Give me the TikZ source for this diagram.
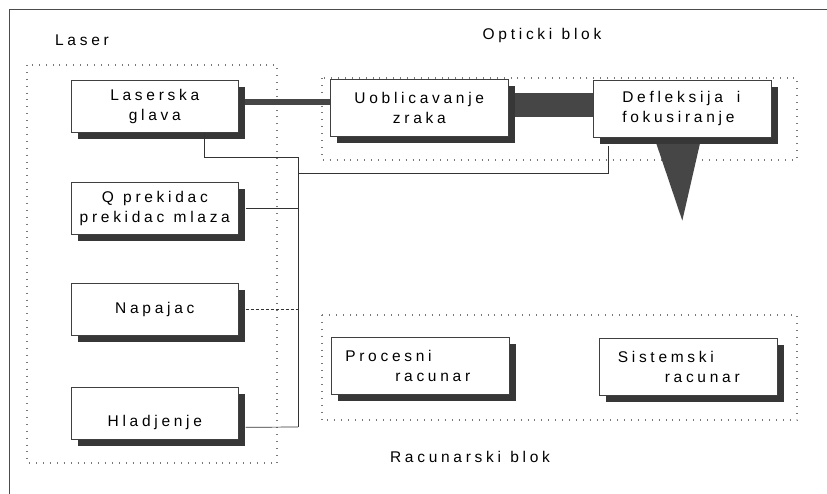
\documentclass[tikz,border=0pt]{standalone}
\usepackage{fontspec}
\setmainfont{Liberation Sans}
\newfontfamily\blockfont[LetterSpace=24]{Liberation Sans}
\usepackage{tikz}
\usetikzlibrary{positioning,calc,shadows,backgrounds}
\definecolor{shadowgrey}{RGB}{55,55,55}
\definecolor{beamgrey}{RGB}{70,70,70}
\definecolor{zonegrey}{RGB}{120,120,120}
\newcommand{\wgap}{\hspace{0.6em}}

\tikzset{
  unitbox/.style={draw=black!75,line width=0.6pt,fill=white,inner sep=0pt,
    minimum width=167pt,minimum height=52pt,align=center,
    drop shadow={shadow xshift=7pt,shadow yshift=-7pt,fill=shadowgrey,opacity=1}},
  widebox/.style={unitbox,minimum width=178pt,minimum height=57pt},
  zone/.style={draw=zonegrey,line width=1.1pt,dash pattern=on 0.9pt off 6pt},
  wire/.style={draw=black!80,line width=0.7pt},
  beam/.style={draw=beamgrey,line cap=butt},
  title/.style={font=\blockfont\fontsize{15.5}{18}\selectfont}
}

\begin{document}
\begin{tikzpicture}[x=1pt,y=-1pt,every node/.style={font=\blockfont\fontsize{15.5}{20}\selectfont}]
  \useasboundingbox (0,0) rectangle (827,494);
  % outer frame
  \draw[black!70,line width=0.7pt] (9,494) -- (9,9) -- (827,9);

  % headings
  \node[title] (laser) at (82,40) {Laser};
  \node[title] (optic) at (542,35) {Opticki\wgap blok};
  \node[title] (comp) at (470,457) {Racunarski\wgap blok};

  % laser column
  \node[unitbox,anchor=north west] (head) at (71,80) {Laserska\\glava};
  \node[unitbox,anchor=north west] (qswitch) at (71,182) {Q\wgap prekidac\\prekidac\wgap mlaza};
  \node[unitbox,anchor=north west] (supply) at (71,283) {Napajac};
  \node[unitbox,anchor=north west] (cooling) at (71,387) {\raisebox{-9pt}[8pt][0pt]{Hladjenje}};

  % optical block
  \node[widebox,anchor=north west] (shaping) at (330,79) {Uoblicavanje\\zraka};
  \node[widebox,anchor=north west,align=left,text width=120pt] (deflect) at (593,80) {Defleksija\hspace{0.9em}i\\fokusiranje};

  % computer block
  \node[widebox,anchor=north west,align=left,text width=150pt] (process) at (331,337) {Procesni\\\hspace*{50pt}racunar};
  \node[widebox,anchor=north west,align=left,text width=141pt] (system) at (599,338) {Sistemski\\\hspace*{47pt}racunar};

  \begin{scope}[on background layer]
    \draw[zone] (27,65) rectangle (277,463);
    \draw[zone] (322,78) rectangle (797,160);
    \draw[zone] (322,315) rectangle (797,420);
    % beams
    \draw[beam,line width=6pt] ([yshift=4pt]head.center) -- ([yshift=4pt]head.center -| shaping.center);
    \draw[beam,line width=24pt] ([yshift=3pt]shaping.center) -- ([yshift=3pt]shaping.center -| deflect.center);
    \fill[beamgrey] ([xshift=-28pt]deflect.south) -- ([xshift=19pt]deflect.south)
      -- ([yshift=-83pt]deflect.south) -- cycle;
  \end{scope}

  % control bus
  \coordinate (bustop) at (298,157);
  \coordinate (busbot) at (298,427);
  \coordinate (tap) at (298,173);
  \draw[wire] ([xshift=50pt]head.south) |- (bustop) -- (busbot);
  \draw[wire] ([xshift=7pt]qswitch.east) -- (qswitch.east -| bustop);
  \draw[wire,densely dashed] ([xshift=7pt]supply.east) -- (supply.east -| bustop);
  \draw[wire] ([xshift=7pt,yshift=-14pt]cooling.east) -- (busbot);
  \draw[wire] (tap) -| ([xshift=15pt,yshift=-8pt]deflect.south west);
\end{tikzpicture}
\end{document}
